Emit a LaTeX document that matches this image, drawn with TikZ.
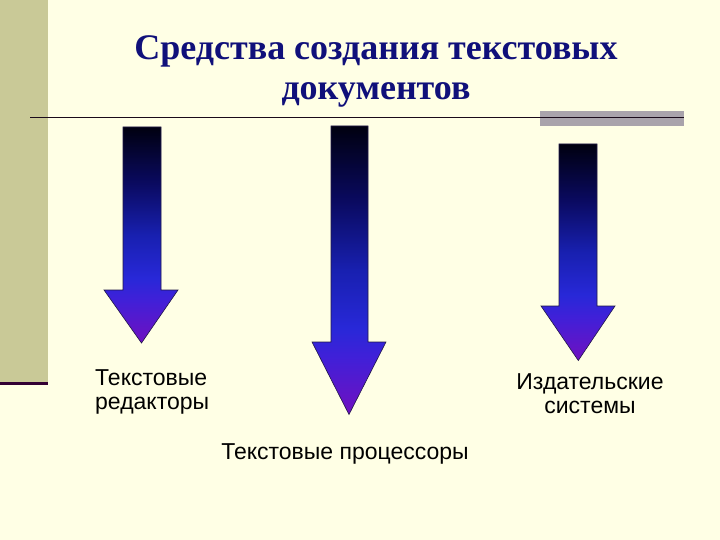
\documentclass[tikz,border=0pt]{standalone}
\usepackage{fontspec}
\setmainfont{Liberation Serif}
\newfontfamily\labelfont{Liberation Sans}
\definecolor{bg}{HTML}{FFFFE5}
\definecolor{band}{HTML}{C9C997}
\definecolor{bandline}{HTML}{330033}
\definecolor{rulegray}{HTML}{A9A3AB}
\definecolor{ruledark}{HTML}{1A0A1A}
\definecolor{titleblue}{HTML}{10107A}
\definecolor{arrowedge}{HTML}{201848}
\definecolor{gA}{HTML}{000010}
\definecolor{gB}{HTML}{0A0A60}
\definecolor{gC}{HTML}{1820B0}
\definecolor{gD}{HTML}{2828D8}
\definecolor{gE}{HTML}{4020D8}
\definecolor{gF}{HTML}{7010C0}
\pgfdeclareverticalshading{arrowgrad}{100bp}{color(0bp)=(gF); color(25bp)=(gF); color(35bp)=(gE); color(40bp)=(gD); color(50bp)=(gC); color(62bp)=(gB); color(75bp)=(gA); color(100bp)=(gA)}
\tikzset{
  bigarrow/.style={shading=arrowgrad, draw=arrowedge, line width=0.6pt, line join=miter},
  titletext/.style={font=\fontsize{36}{39}\selectfont\bfseries, text=titleblue, inner sep=0pt},
  labeltext/.style={font=\labelfont\fontsize{23}{24}\selectfont, text=black, inner sep=0pt},
}
\begin{document}
\begin{tikzpicture}[x=1pt,y=-1pt]
\useasboundingbox (0,0) rectangle (720,540);
\fill[bg] (0,0) rectangle (720,540);
% left band
\fill[band] (0,0) rectangle (48,383);
\fill[bandline] (0,381.5) rectangle (48,385);
% title rule
\fill[rulegray] (540,111) rectangle (684,126);
\draw[ruledark, line width=1.6pt] (30,117.5) -- (684,117.5);
% title
\node[titletext, anchor=base] (t1) at (376,60) {Средства создания текстовых};
\node[titletext, anchor=base] (t2) at (376,99.5) {документов};
% arrows
\path[bigarrow] (123,127) -- (161,127) -- (161,290) -- (178,290) -- (141.5,343) -- (104,290) -- (123,290) -- cycle;
\path[bigarrow] (331,126) -- (368,126) -- (368,342) -- (386,342) -- (349,414.5) -- (312,342) -- (331,342) -- cycle;
\path[bigarrow] (559,144) -- (597,144) -- (597,306) -- (615,306) -- (578.3,360.5) -- (541,306) -- (559,306) -- cycle;
% labels (base anchor = baseline of the last line)
\node[labeltext, anchor=base west, align=left] (l1) at (95,409) {Текстовые\\редакторы};
\node[labeltext, anchor=base] (l2) at (345,459) {Текстовые процессоры};
\node[labeltext, anchor=base, align=center] (l3) at (590,413.3) {Издательские\\системы};
\end{tikzpicture}
\end{document}
